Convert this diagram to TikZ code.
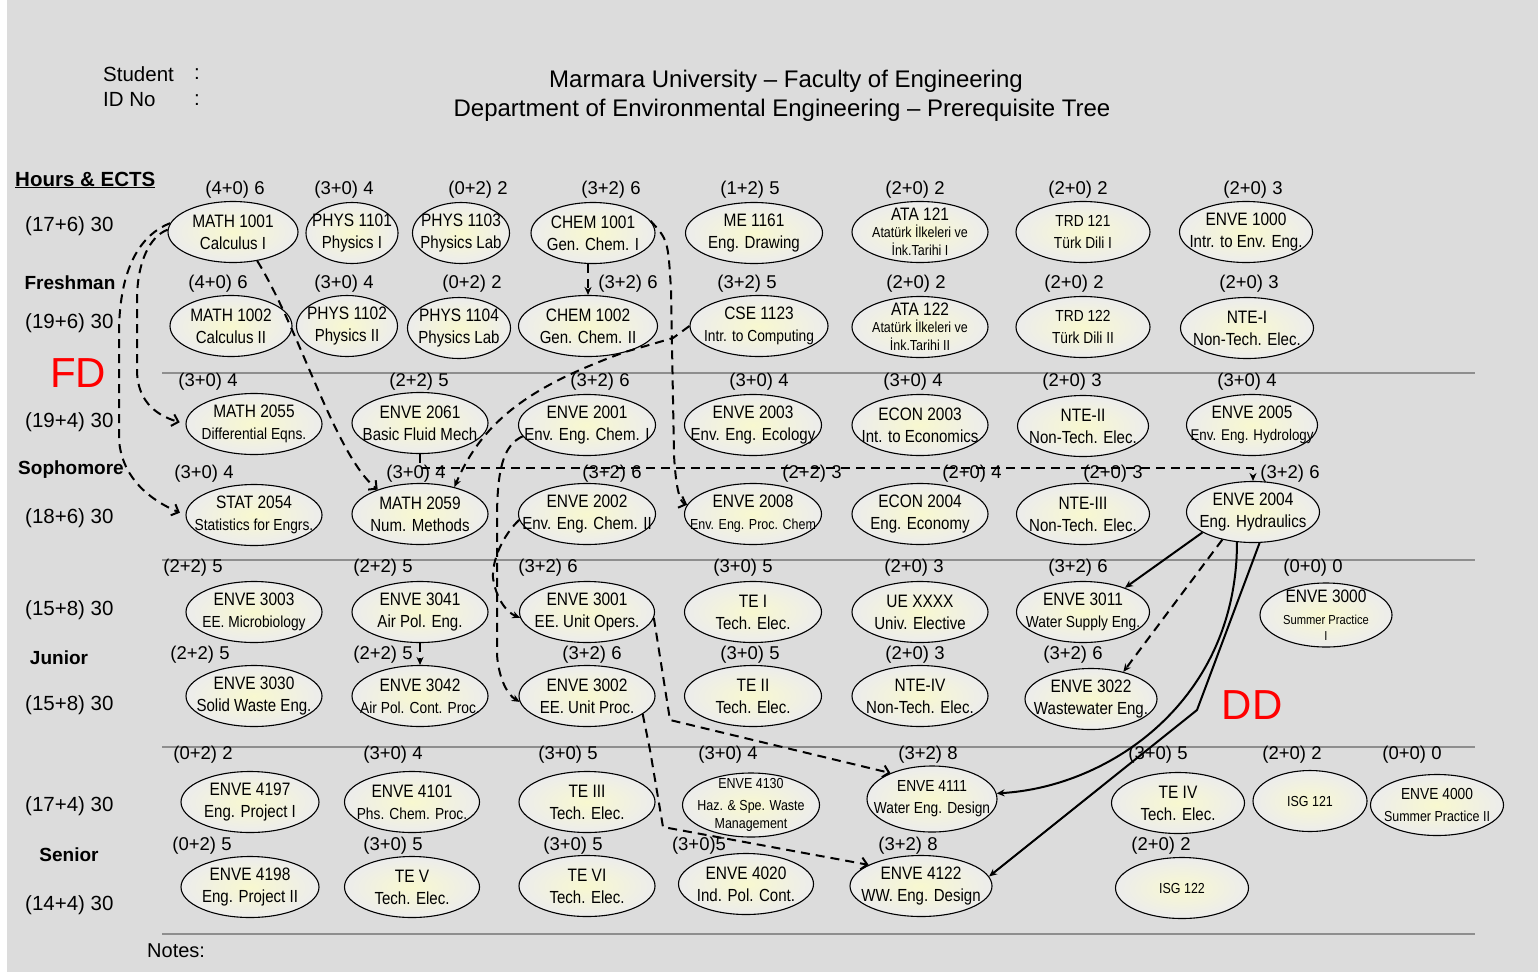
\documentclass[tikz,border=0pt]{standalone}
\usepackage{fontspec}
\setmainfont{Liberation Sans}
\newfontfamily\narrowsans[FakeStretch=0.86]{Liberation Sans}
\usetikzlibrary{shapes.geometric,arrows.meta}
\definecolor{bg}{HTML}{DCDCDC}
\definecolor{ellin}{HTML}{F8F8CF}
\definecolor{ellout}{HTML}{ECECEC}
\definecolor{rulecol}{HTML}{8E8E8E}
\newcommand\kcode{\fontsize{18}{22}\selectfont}
\newcommand\kmid{\fontsize{16}{22}\selectfont}
\newcommand\ksm{\fontsize{14.5}{22}\selectfont}
\newcommand\kxs{\fontsize{13}{22}\selectfont}
\tikzset{
 course/.style={ellipse, draw=black, line width=1.1pt, inner color=ellin, outer color=ellout,
   minimum width=136pt, minimum height=61pt, inner sep=0pt},
 cw/.style={minimum width=#1pt},
 ch/.style={minimum height=#1pt},
 ctext/.style={align=center, inner sep=0pt, font=\narrowsans\fontsize{17.5}{22}\selectfont},
 hrs/.style={font=\fontsize{18.5}{20}\selectfont, inner sep=0pt},
 side/.style={font=\fontsize{20.5}{22}\selectfont, inner sep=0pt, anchor=west},
 yr/.style={font=\bfseries\fontsize{19}{21}\selectfont, inner sep=0pt},
 sepline/.style={draw=rulecol, line width=1.5pt},
 dep/.style={line width=2pt, dash pattern=on 9pt off 6pt},
 req/.style={line width=2pt},
 barb/.style={-{Straight Barb[length=6pt,width=12pt]}},
 tip/.style={-{Stealth[length=8pt,width=7pt]}},
 bigred/.style={font=\fontsize{42}{44}\selectfont, text=red, inner sep=0pt},
}
\newcommand\crs[9][]{%
  \node[course,#1,label={[ctext,name=#2t]center:{{\kcode #5}\\#6}}] (#2) at (#3,#4) {};
  \node[hrs] (#2h) at (#7,#8) {#9};}
\begin{document}
\begin{tikzpicture}[x=1pt,y=-1pt]
\useasboundingbox (0,0) rectangle (1538,975);
\fill[bg] (0,0) rectangle (1538,975);
\fill[white] (0,0) rectangle (7,975);
\fill[white] (0,972) rectangle (1538,975);

% separators
\draw[sepline] (162,373) -- (1475,373);
\draw[sepline] (162,560) -- (1475,560);
\draw[sepline] (162,747) -- (1475,747);
\draw[sepline] (162,934) -- (1475,934);

% header
\node[side] (stu) at (103,74) {Student};
\node[side] (stuc) at (194,74) {:};
\node[side] (idno) at (103,100) {ID No};
\node[side] (idc) at (194,100) {:};
\node[font=\fontsize{24}{26}\selectfont, inner sep=0pt] (t1) at (786,81) {Marmara University – Faculty of Engineering};
\node[font=\fontsize{24}{26}\selectfont, inner sep=0pt] (t2) at (782,110) {Department of Environmental Engineering – Prerequisite Tree};

% left column
\node[font=\bfseries\fontsize{20.5}{22}\selectfont, inner sep=0pt, anchor=west] (hdr) at (15,180) {\underline{Hours \& ECTS}};
\node[side] (s1) at (25,226) {(17+6) 30};
\node[yr] (fresh) at (70,283) {Freshman};
\node[side] (s2) at (25,323) {(19+6) 30};
\node[side] (s3) at (25,422) {(19+4) 30};
\node[yr] (soph) at (71,470) {Sophomore};
\node[side] (s4) at (25,518) {(18+6) 30};
\node[side] (s5) at (25,610) {(15+8) 30};
\node[yr] (jun) at (59,658) {Junior};
\node[side] (s6) at (25,705) {(15+8) 30};
\node[side] (s7) at (25,806) {(17+4) 30};
\node[yr] (sen) at (69,855) {Senior};
\node[side] (s8) at (25,905) {(14+4) 30};
\node[font=\fontsize{20}{22}\selectfont, inner sep=0pt, anchor=west] (notes) at (147,951) {Notes:};
\node[bigred] (fd) at (78,373) {FD};
\node[bigred] (dd) at (1252,705) {DD};

% Row 1
\crs[cw=130]{m1001}{233}{232}{MATH 1001}{Calculus I}{235}{190}{(4+0) 6}
\crs[cw=92]{p1101}{352}{233}{PHYS 1101}{Physics I}{344}{190}{(3+0) 4}
\crs[cw=97]{p1103}{461}{233}{PHYS 1103}{Physics Lab}{478}{190}{(0+2) 2}
\crs[cw=124]{c1001}{593}{233}{CHEM 1001}{Gen. Chem. I}{611}{190}{(3+2) 6}
\crs[cw=137]{me1161}{754}{233}{ME 1161}{Eng. Drawing}{750}{190}{(1+2) 5}
\node[course,label={[ctext,name=ata121t]center:{{\kcode ATA 121}\\[-5pt]{\ksm Atatürk İlkeleri ve}\\[-4pt]{\ksm İnk.Tarihi I}}}] (ata121) at (920,232) {};
\node[hrs] (ata121h) at (915,190) {(2+0) 2};
\crs[cw=134]{trd121}{1083}{232}{\kmid TRD 121}{\kmid Türk Dili I}{1078}{190}{(2+0) 2}
\crs[cw=133]{e1000}{1246}{232}{ENVE 1000}{Intr. to Env. Eng.}{1253}{190}{(2+0) 3}

% Row 2
\crs[cw=122]{m1002}{231}{326}{MATH 1002}{Calculus II}{218}{284}{(4+0) 6}
\crs[cw=101]{p1102}{347}{326}{PHYS 1102}{Physics II}{344}{284}{(3+0) 4}
\crs[cw=103]{p1104}{459}{328}{PHYS 1104}{Physics Lab}{472}{284}{(0+2) 2}
\crs[cw=139]{c1002}{588}{326}{CHEM 1002}{Gen. Chem. II}{628}{284}{(3+2) 6}
\crs[cw=138]{cse}{759}{326}{CSE 1123}{\kmid Intr. to Computing}{747}{284}{(3+2) 5}
\node[course,label={[ctext,name=ata122t]center:{{\kcode ATA 122}\\[-5pt]{\ksm Atatürk İlkeleri ve}\\[-4pt]{\ksm İnk.Tarihi II}}}] (ata122) at (920,327) {};
\node[hrs] (ata122h) at (916,284) {(2+0) 2};
\crs[cw=134]{trd122}{1083}{327}{\kmid TRD 122}{\kmid Türk Dili II}{1074}{284}{(2+0) 2}
\crs[cw=133]{nte1}{1247}{328}{NTE-I}{Non-Tech. Elec.}{1249}{284}{(2+0) 3}

% Row 3
\crs{m2055}{254}{424}{MATH 2055}{\kmid Differential Eqns.}{208}{382}{(3+0) 4}
\crs{e2061}{420}{423}{ENVE 2061}{Basic Fluid Mech}{419}{382}{(2+2) 5}
\crs[cw=137]{e2001}{587}{425}{ENVE 2001}{Env. Eng. Chem. I}{600}{382}{(3+2) 6}
\crs[cw=137]{e2003}{753}{425}{ENVE 2003}{Env. Eng. Ecology}{759}{382}{(3+0) 4}
\crs{econ2003}{920}{425}{ECON 2003}{Int. to Economics}{913}{382}{(3+0) 4}
\crs[cw=131]{nte2}{1083}{426}{NTE-II}{Non-Tech. Elec.}{1072}{382}{(2+0) 3}
\crs[cw=131]{e2005}{1252}{425}{ENVE 2005}{\fontsize{15.5}{22}\selectfont Env. Eng. Hydrology}{1247}{382}{(3+0) 4}

% Row 4
\crs{stat}{254}{515}{STAT 2054}{\kmid Statistics for Engrs.}{204}{474}{(3+0) 4}
\crs{m2059}{420}{514}{MATH 2059}{Num. Methods}{416}{474}{(3+0) 4}
\crs[cw=137]{e2002}{587}{514}{ENVE 2002}{Env. Eng. Chem. II}{612}{474}{(3+2) 6}
\crs[cw=137]{e2008}{753}{514}{ENVE 2008}{\ksm Env. Eng. Proc. Chem}{812}{474}{(2+2) 3}
\crs{econ2004}{920}{514}{ECON 2004}{Eng. Economy}{972}{474}{(2+0) 4}
\crs[cw=133]{nte3}{1083}{514}{NTE-III}{Non-Tech. Elec.}{1113}{474}{(2+0) 3}
\crs[cw=133]{e2004}{1253}{512}{ENVE 2004}{Eng. Hydraulics}{1290}{474}{(3+2) 6}

% Row 5
\crs{e3003}{254}{612}{ENVE 3003}{\kmid EE. Microbiology}{193}{568}{(2+2) 5}
\crs{e3041}{420}{612}{ENVE 3041}{Air Pol. Eng.}{383}{568}{(2+2) 5}
\crs[cw=135]{e3001}{587}{612}{ENVE 3001}{EE. Unit Opers.}{548}{568}{(3+2) 6}
\crs[cw=137]{te1}{753}{612}{TE I}{Tech. Elec.}{743}{568}{(3+0) 5}
\crs{ue}{920}{612}{UE XXXX}{Univ. Elective}{914}{568}{(2+0) 3}
\crs[cw=133]{e3011}{1083}{612}{ENVE 3011}{\kmid Water Supply Eng.}{1078}{568}{(3+2) 6}
\crs[cw=132,ch=64]{e3000}{1326}{615}{ENVE 3000}{{\kxs Summer Practice}\\[-6pt]{\kxs I}}{1313}{568}{(0+0) 0}

% Row 6
\crs{e3030}{254}{696}{ENVE 3030}{Solid Waste Eng.}{200}{655}{(2+2) 5}
\crs{e3042}{420}{696}{ENVE 3042}{\kmid Air Pol. Cont. Proc.}{383}{655}{(2+2) 5}
\crs{e3002}{587}{696}{ENVE 3002}{EE. Unit Proc.}{592}{655}{(3+2) 6}
\crs[cw=137]{te2}{753}{696}{TE II}{Tech. Elec.}{750}{655}{(3+0) 5}
\crs{nte4}{920}{696}{NTE-IV}{Non-Tech. Elec.}{915}{655}{(2+0) 3}
\crs[cw=132]{e3022}{1091}{699}{ENVE 3022}{Wastewater Eng.}{1073}{655}{(3+2) 6}

% Row 7
\crs[cw=138]{e4197}{250}{802}{ENVE 4197}{Eng. Project I}{203}{755}{(0+2) 2}
\crs[cw=135]{e4101}{412}{802}{ENVE 4101}{\kmid Phs. Chem. Proc.}{393}{755}{(3+0) 4}
\crs{te3}{587}{802}{TE III}{Tech. Elec.}{568}{755}{(3+0) 5}
\crs[cw=137,ch=64]{e4130}{751}{805}{\ksm ENVE 4130}{{\ksm Haz. \& Spe. Waste}\\[-4pt]{\ksm Management}}{728}{755}{(3+0) 4}
\crs[cw=130,ch=66]{e4111}{932}{799}{\kmid ENVE 4111}{\kmid Water Eng. Design}{928}{755}{(3+2) 8}
\crs[cw=133]{te4}{1178}{803}{TE IV}{Tech. Elec.}{1158}{755}{(3+0) 5}
\node[course,cw=114,label={[ctext,name=isg121t]center:{\ksm ISG 121}}] (isg121) at (1310,801) {};
\node[hrs] (isg121h) at (1292,755) {(2+0) 2};
\crs[cw=133]{e4000}{1437}{805}{\kmid ENVE 4000}{\ksm Summer Practice II}{1412}{755}{(0+0) 0}

% Row 8
\crs[cw=138]{e4198}{250}{887}{ENVE 4198}{Eng. Project II}{202}{846}{(0+2) 5}
\crs[cw=135]{tev}{412}{887}{TE V}{Tech. Elec.}{393}{846}{(3+0) 5}
\crs{te6}{587}{886}{TE VI}{Tech. Elec.}{573}{846}{(3+0) 5}
\crs[cw=135]{e4020}{746}{884}{ENVE 4020}{Ind. Pol. Cont.}{699}{846}{(3+0)5}
\crs[cw=142]{e4122}{921}{886}{ENVE 4122}{WW. Eng. Design}{908}{846}{(3+2) 8}
\node[course,cw=133,label={[ctext,name=isg122t]center:{\ksm ISG 122}}] (isg122) at (1182,888) {};
\node[hrs] (isg122h) at (1161,846) {(2+0) 2};

% ---------- connectors ----------
% FD: MATH 1001 -> MATH 2055, STAT 2054
\draw[dep,barb,shorten >=6pt] (m1001.178) .. controls (150,236) and (137,262) .. (137,300) -- (137,372) .. controls (138,398) and (152,414) .. (m2055.west);
\draw[dep,barb,shorten >=6pt] (m1001.172) .. controls (140,235) and (120,268) .. (119,330) -- (119,440) .. controls (122,478) and (150,500) .. (stat.west);
% MATH 1001 -> MATH 2059
\draw[dep,barb] (m1001.-50) .. controls (300,330) and (335,455) .. (m2059.150);
% CHEM 1001 -> CHEM 1002
\draw[dep,tip] (c1001.south -| c1002.north) -- (c1002.north);
% CHEM 1001 -> ENVE 2008
\draw[dep,barb] (c1001.12) .. controls (668,240) .. (671,290) -- (674,455) .. controls (676,490) and (680,502) .. (e2008.172);
% CSE 1123 -> MATH 2059
\draw[dep,tip] (cse.west) -- (673,338) -- (625,352) .. controls (540,383) and (485,415) .. (m2059.38);
% ENVE 2001 -> ENVE 3002
\draw[dep,tip] (e2001.190) .. controls (503,445) and (497,470) .. (497,520) -- (497,655) .. controls (499,680) and (508,695) .. (e3002.185);
% ENVE 2002 -> ENVE 3001
\draw[dep,tip] (e2002.185) .. controls (503,535) and (492,560) .. (493,578) .. controls (496,598) and (506,612) .. (e3001.185);
% ENVE 2061 -> ENVE 2004
\draw[dep,tip] (e2061.south) -- ++(0,14) -| (e2004.north);
% ENVE 3041 -> ENVE 3042
\draw[dep,tip] (e3041.south) -- (e3042.north);
% ENVE 3001 -> ENVE 4111
\draw[dep,barb] (e3001.-5) -- (670,720) -- (e4111.148);
% ENVE 3002 -> ENVE 4122
\draw[dep,barb] (e3002.-18) -- (650,750) -- (663,827) -- (e4122.158);
% DD: ENVE 2004 -> 3011, 3022, 4111, 4122
\draw[req,tip] (e2004.-158) -- (e3011.30);
\draw[dep,tip] (e2004.-138) -- (e3022.40);
\draw[req,tip] (e2004.-118) .. controls (1237,700) and (1110,787) .. (e4111.5);
\draw[req,tip] (e2004.-78) -- (1197,710) -- (e4122.8);
\end{tikzpicture}
\end{document}
